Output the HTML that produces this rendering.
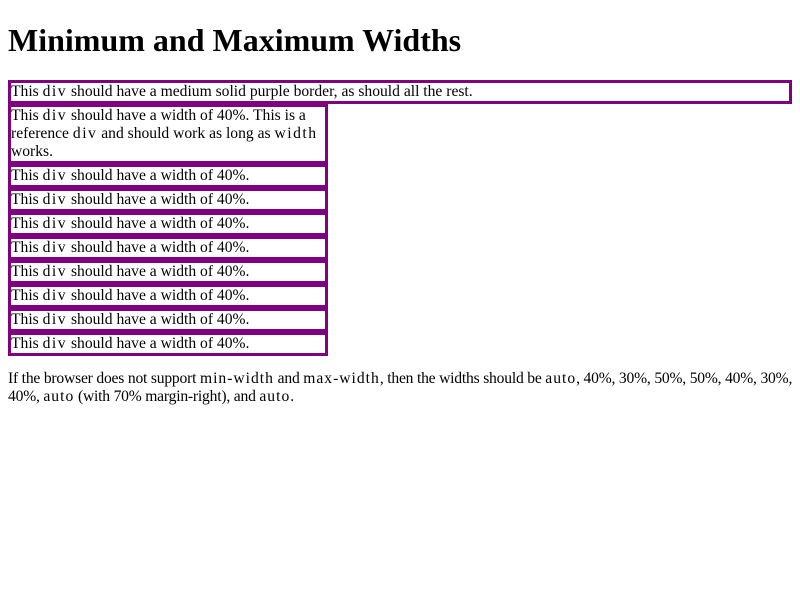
<!DOCTYPE html>
<html>
<head>
<meta charset="utf-8">
<style>
  html, body { margin: 0; padding: 0; background: #fff; }
  body { margin: 8px; font-family: "Liberation Serif", serif; font-size: 15.6px; line-height: 18px; color: #000; }
  h1 { font-size: 32px; font-weight: bold; margin: 22px 0 22px 0; line-height: 36px; }
  .box { border: 3px solid purple; width: 40%; }
  .box.full { width: auto; }
  code { font-family: "Liberation Serif", serif; letter-spacing: 1.5px; }
  p { margin: 14px 0 16px 0; white-space: nowrap; letter-spacing: -0.2px; }
  p code { letter-spacing: 1px; }
</style>
</head>
<body>
<h1>Minimum and Maximum Widths</h1>
<div class="box full">This <code>div</code> should have a medium solid purple border, as should all the rest.</div>
<div class="box">This <code>div</code> should have a width of 40%. This is a reference <code>div</code> and should work as long as <code>width</code> works.</div>
<div class="box">This <code>div</code> should have a width of 40%.</div>
<div class="box">This <code>div</code> should have a width of 40%.</div>
<div class="box">This <code>div</code> should have a width of 40%.</div>
<div class="box">This <code>div</code> should have a width of 40%.</div>
<div class="box">This <code>div</code> should have a width of 40%.</div>
<div class="box">This <code>div</code> should have a width of 40%.</div>
<div class="box">This <code>div</code> should have a width of 40%.</div>
<div class="box">This <code>div</code> should have a width of 40%.</div>
<p>If the browser does not support <code>min-width</code> and <code>max-width</code>, then the widths should be <code>auto</code>, 40%, 30%, 50%, 50%, 40%, 30%,<br>40%, <code>auto</code> (with 70% margin-right), and <code>auto</code>.</p>
</body>
</html>
